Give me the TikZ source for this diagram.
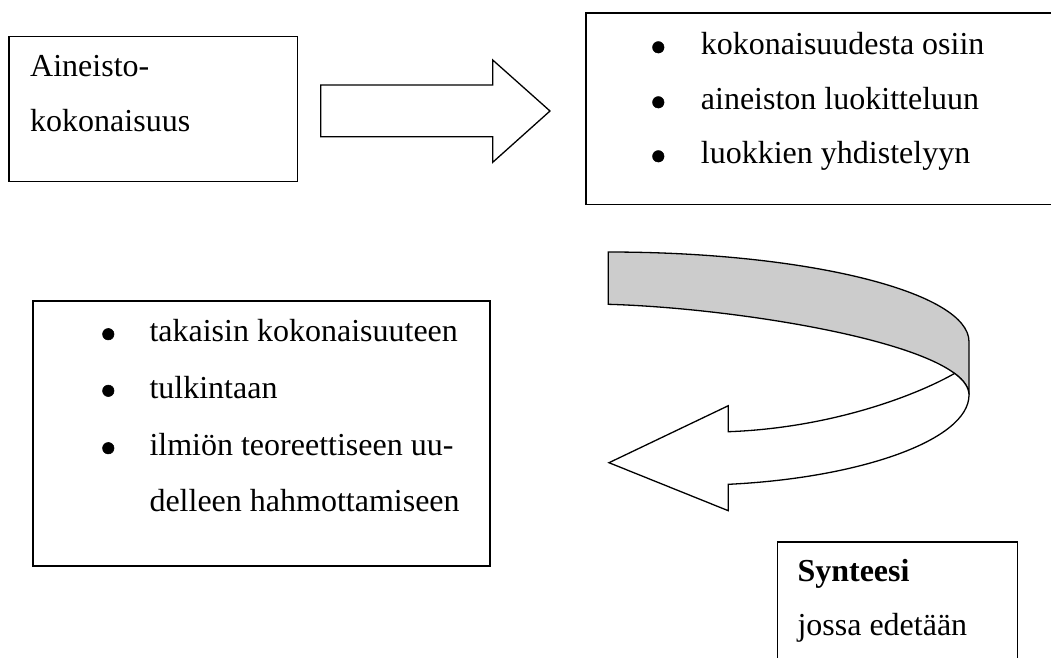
\documentclass[tikz,border=0pt]{standalone}
\usepackage{fontspec}
\setmainfont{Liberation Serif}
\begin{document}
\begin{tikzpicture}[x=1pt,y=-1pt,
  box/.style={draw=black,line width=1.6pt,fill=white,inner sep=0pt,anchor=north west},
  txt/.style={inner sep=0pt,anchor=base west,font=\fontsize{32}{38}\selectfont},
  bul/.style={circle,draw=black,fill=black,line width=0.5pt,inner sep=0pt,minimum size=11.5pt},
  blockarrow/.style={draw=black,line width=1.3pt,fill=white,line join=miter},
  ribbon/.style={draw=black,line width=1.3pt,fill=gray!40}]
\useasboundingbox (0,0) rectangle (1051,657);
\clip (0,0) rectangle (1051,657);

% boxes
\node[box,minimum width=288.4pt,minimum height=145pt] (b1) at (8.3,35.7) {};
\node[box,minimum width=485pt,minimum height=191.5pt] (b2) at (585,12) {};
\node[box,minimum width=456.7pt,minimum height=265pt] (b3) at (32.3,300) {};
\node[box,minimum width=240pt,minimum height=139pt] (b4) at (776.7,541) {};

% box 1 text
\node[txt] (t1a) at (30,76) {Aineisto-};
\node[txt] (t1b) at (30,131.7) {kokonaisuus};

% box 2 text
\node[bul] (u21) at (658.3,47.3) {};
\node[bul] (u22) at (658.3,102.3) {};
\node[bul] (u23) at (658.3,156.3) {};
\node[txt] (t21) at (700.7,54.3) {kokonaisuudesta osiin};
\node[txt] (t22) at (700.7,109.3) {aineiston luokitteluun};
\node[txt] (t23) at (700.7,163.3) {luokkien yhdistelyyn};

% box 3 text
\node[bul] (u31) at (108.3,334.2) {};
\node[bul] (u32) at (108.3,390.8) {};
\node[bul] (u33) at (108.3,448.2) {};
\node[txt] (t31) at (149.3,341.7) {takaisin kokonaisuuteen};
\node[txt] (t32) at (149.3,398.3) {tulkintaan};
\node[txt] (t33) at (149.3,455.7) {ilmiön teoreettiseen uu-};
\node[txt] (t34) at (149.3,511.7) {delleen hahmottamiseen};

% box 4 text
\node[txt] (t41) at (797.3,581.7) {\bfseries Synteesi};
\node[txt] (t42) at (797.3,635) {jossa edetään};

% right block arrow
\draw[blockarrow] (320.7,85) -- (492.7,85) -- (492.7,60) -- (550,111)
  -- (492.7,162.3) -- (492.7,136.7) -- (320.7,136.7) -- cycle;

% curved ribbon arrow: grey back part
\draw[ribbon] (608.3,252) .. controls (807.5,252) and (969,292.2) .. (969,341.7)
  -- (969,395) .. controls (969,345) and (740,308) .. (608.3,304.3) -- cycle;

% white front part with head
\coordinate (S) at (954.6,373.4);
\draw[blockarrow] (S) .. controls (963.85,380.3) and (969,387.5) .. (969,395)
  .. controls (969,440) and (860,478) .. (728.3,484.3)
  -- (728.3,510.7) -- (609,462.7) -- (728.3,405.7) -- (728.3,431.7)
  .. controls (830,428) and (915,396) .. (S) -- cycle;
\end{tikzpicture}
\end{document}
